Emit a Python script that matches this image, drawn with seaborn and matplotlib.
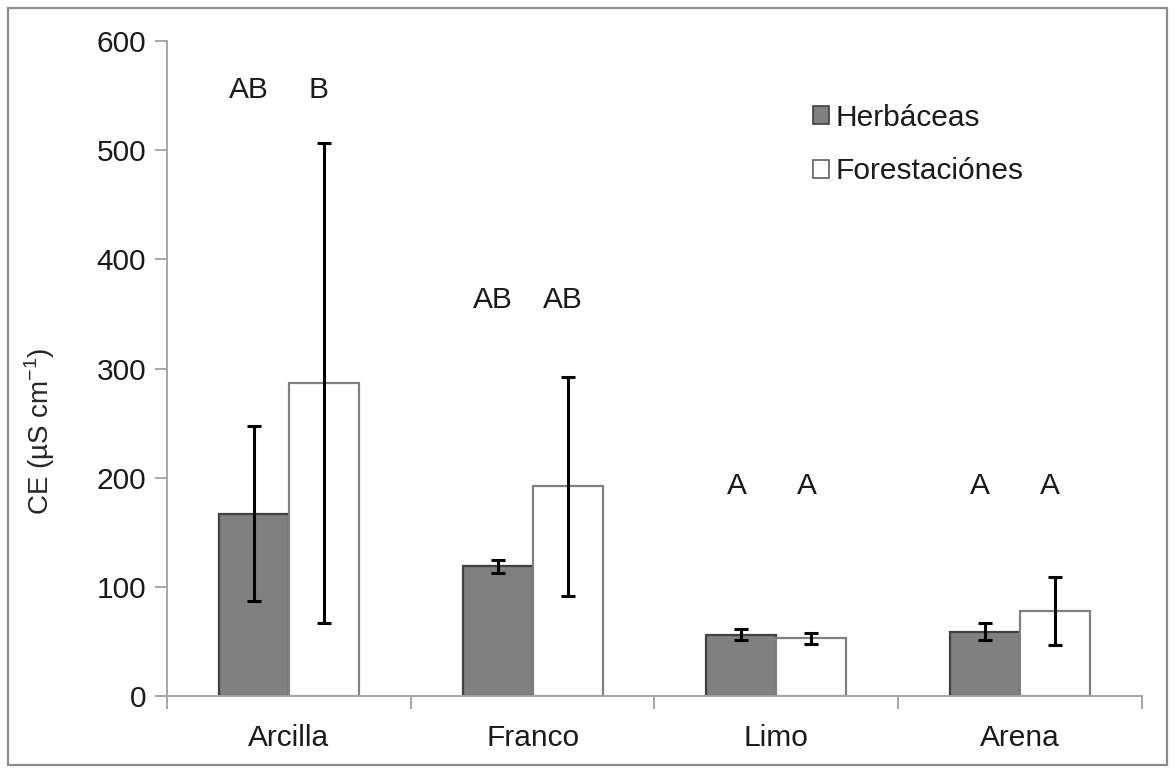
import matplotlib
matplotlib.use("Agg")
import matplotlib.pyplot as plt
from matplotlib.patches import Patch, Rectangle
import seaborn as sns
import pandas as pd
import numpy as np

# Soil texture classes and vegetation cover
texturas = ["Arcilla", "Franco", "Limo", "Arena"]
coberturas = ["Herbáceas", "Forestaciónes"]

# Mean electrical conductivity (µS cm-1) and its error
ce_herbaceas = [167, 119, 56, 59]
ce_forestaciones = [287, 192, 53, 78]
err_herbaceas = [80, 6, 5, 8]
err_forestaciones = [220, 100, 5, 31]

# Significance letters per bar and their heights
letras_herbaceas = ["AB", "AB", "A", "A"]
letras_forestaciones = ["B", "AB", "A", "A"]
altura_letras = [555, 363, 192, 192]

yticks = [0, 100, 200, 300, 400, 500, 600]

df = pd.DataFrame({
    "Textura": texturas * 2,
    "Cobertura": [coberturas[0]] * 4 + [coberturas[1]] * 4,
    "CE": ce_herbaceas + ce_forestaciones,
})

sns.set_style("white")
plt.rcParams["font.family"] = ["Liberation Sans", "DejaVu Sans"]
plt.rcParams["text.color"] = "#1a1a1a"
plt.rcParams["xtick.labelcolor"] = "#1a1a1a"
plt.rcParams["ytick.labelcolor"] = "#1a1a1a"
plt.rcParams["mathtext.fontset"] = "custom"
plt.rcParams["mathtext.rm"] = "Liberation Sans"

FS = 21.5
fig = plt.figure(figsize=(11.75, 7.69), dpi=100)
ax = fig.add_axes([0.1421, 0.0949, 0.8298, 0.8518])

colores = {"Herbáceas": "#808080", "Forestaciónes": "#ffffff"}
sns.barplot(data=df, x="Textura", y="CE", hue="Cobertura", order=texturas,
            hue_order=coberturas, palette=colores, width=0.574, gap=0,
            errorbar=None, legend=False, ax=ax, zorder=2)

# style bars and collect their centres
bars = [p for p in ax.patches if isinstance(p, Rectangle) and p.get_width() > 0][:8]
bordes = ["#404040"] * 4 + ["#808080"] * 4
for p, c in zip(bars, bordes):
    p.set_edgecolor(c)
    p.set_linewidth(1.6)

errs = err_herbaceas + err_forestaciones
letras = letras_herbaceas + letras_forestaciones
for i, p in enumerate(bars):
    xc = p.get_x() + p.get_width() / 2
    h = p.get_height()
    ax.errorbar(xc, h, yerr=errs[i], fmt="none", ecolor="black",
                elinewidth=2.2, capsize=5, capthick=2.2, zorder=3)
    ax.text(xc - 0.02, altura_letras[i % 4], letras[i], ha="center", va="center",
            fontsize=FS)

ax.set_xlim(-0.5, len(texturas) - 0.5)
ax.set_ylim(0, 600)
ax.set_yticks(yticks)
ax.set_yticklabels([str(v) for v in yticks], fontsize=FS)
ax.set_xticks(range(len(texturas)))
ax.set_xticklabels(texturas, fontsize=FS)
ax.set_xticks(np.arange(-0.5, len(texturas)), minor=True)
ax.tick_params(axis="x", which="major", bottom=False, length=0, pad=20)
ax.tick_params(axis="x", which="minor", bottom=True, length=9, width=1.4,
               color="#a6a6a6", direction="out")
ax.tick_params(axis="y", left=True, length=9, width=1.4, color="#a6a6a6",
               direction="out", pad=6)
ax.set_xlabel("")
ax.set_ylabel("CE (µS cm$^{\\mathrm{-1}}$)", fontsize=20, labelpad=10)
ax.yaxis.set_label_coords(-0.113, 0.405)

for s in ["top", "right"]:
    ax.spines[s].set_visible(False)
for s in ["left", "bottom"]:
    ax.spines[s].set_color("#a6a6a6")
    ax.spines[s].set_linewidth(1.4)

handles = [Patch(facecolor="#808080", edgecolor="#404040", linewidth=1.2),
           Patch(facecolor="#ffffff", edgecolor="#606060", linewidth=1.2)]
ax.legend(handles, coberturas, loc="upper left", bbox_to_anchor=(0.635, 0.945),
          frameon=False, fontsize=FS, handlelength=0.55, handleheight=0.55,
          handletextpad=0.2, labelspacing=0.85)

# outer frame around the figure
fig.patches.append(Rectangle((0.007, 0.005), 0.986, 0.985, transform=fig.transFigure,
                             fill=False, edgecolor="#8c8c8c", linewidth=1.6))

fig.savefig("out.png", dpi=100)
